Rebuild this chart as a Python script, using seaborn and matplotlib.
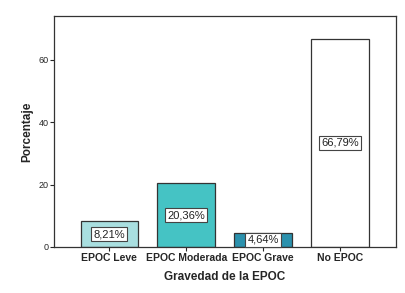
import pandas as pd
import seaborn as sns
import matplotlib.pyplot as plt

# datos del grafico
categorias = ["EPOC Leve", "EPOC Moderada", "EPOC Grave", "No EPOC"]
porcentajes = [8.21, 20.36, 4.64, 66.79]
etiquetas = ["8,21%", "20,36%", "4,64%", "66,79%"]
colores = ["#a9dfe0", "#45c3c4", "#2b91ad", "#ffffff"]

df = pd.DataFrame({"Gravedad": categorias, "Porcentaje": porcentajes})

sns.set_style("white")
plt.rcParams["font.family"] = ["Liberation Sans", "DejaVu Sans"]

fig = plt.figure(figsize=(4.05, 2.93), dpi=100, facecolor="white")
ax = fig.add_axes([54 / 405, 1 - 247 / 293, 342 / 405, 231 / 293])

sns.barplot(data=df, x="Gravedad", y="Porcentaje", hue="Gravedad",
            palette=colores, saturation=1, width=0.75,
            edgecolor="#333333", linewidth=0.9, legend=False, ax=ax)

# etiquetas dentro de las barras
for i, (v, t) in enumerate(zip(porcentajes, etiquetas)):
    ax.text(i, v / 2, t, ha="center", va="center", fontsize=8,
            color="#222222",
            bbox=dict(boxstyle="square,pad=0.2", fc="white",
                      ec="#444444", lw=0.8))

ax.set_xlim(-0.72, 3.73)
ax.set_ylim(0, 74)
ax.set_yticks([0, 20, 40, 60])
ax.tick_params(axis="y", labelsize=6.5, length=3, width=0.8,
               direction="out", left=True, pad=1)
ax.tick_params(axis="x", labelsize=7.5, length=3, width=0.8,
               direction="out", bottom=True, pad=1)
for lbl in ax.get_xticklabels():
    lbl.set_fontweight("bold")

for s in ax.spines.values():
    s.set_color("#333333")
    s.set_linewidth(0.9)

ax.set_xlabel("Gravedad de la EPOC", fontsize=8.5, fontweight="bold",
              labelpad=6)
ax.set_ylabel("Porcentaje", fontsize=8.5, fontweight="bold", labelpad=4)

fig.savefig("out.png", dpi=100, facecolor="white")
